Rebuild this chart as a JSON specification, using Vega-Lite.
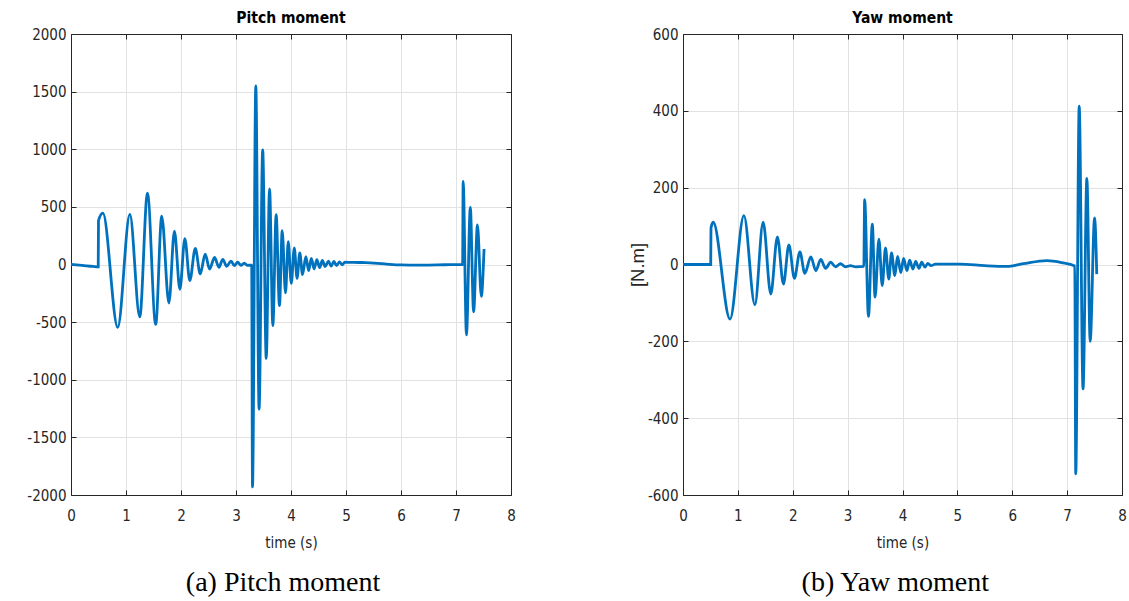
{
  "$schema": "https://vega.github.io/schema/vega-lite/v6.json",
  "background": "white",
  "padding": {"left": 26, "top": 10, "right": 4, "bottom": 5},
  "spacing": 112,
  "config": {
    "view": {"stroke": null},
    "axis": {
      "domainColor": "#262626",
      "tickColor": "#262626",
      "labelColor": "#262626",
      "titleColor": "#262626",
      "gridColor": "#e2e2e2",
      "labelFont": "DejaVu Sans Condensed, Liberation Sans",
      "labelFontSize": 15,
      "titleFont": "DejaVu Sans Condensed, Liberation Sans",
      "titleFontSize": 15,
      "titleFontWeight": "normal",
      "tickSize": -5,
      "domainWidth": 1,
      "tickWidth": 1,
      "labelExpr": "'' + datum.value"
    },
    "title": {
      "font": "DejaVu Sans Condensed, Liberation Sans",
      "fontSize": 15.5,
      "fontWeight": "bold",
      "color": "#000000"
    }
  },
  "datasets": {
    "pitch": [
      {"t": 0, "v": 0}, {"t": 0.2, "v": -8}, {"t": 0.4, "v": -17}, {"t": 0.495, "v": -20},
      {"t": 0.5, "v": 380}, {"t": 0.58, "v": 445}, {"t": 0.85, "v": -545}, {"t": 1.07, "v": 435},
      {"t": 1.25, "v": -455}, {"t": 1.39, "v": 620}, {"t": 1.54, "v": -520}, {"t": 1.65, "v": 420},
      {"t": 1.78, "v": -335}, {"t": 1.88, "v": 290}, {"t": 1.98, "v": -215}, {"t": 2.07, "v": 225},
      {"t": 2.16, "v": -140}, {"t": 2.26, "v": 140}, {"t": 2.35, "v": -82}, {"t": 2.44, "v": 90},
      {"t": 2.52, "v": -40}, {"t": 2.61, "v": 62}, {"t": 2.69, "v": -24}, {"t": 2.76, "v": 45},
      {"t": 2.83, "v": -16}, {"t": 2.91, "v": 30}, {"t": 2.97, "v": -10}, {"t": 3.03, "v": 20},
      {"t": 3.09, "v": -8}, {"t": 3.15, "v": 12}, {"t": 3.21, "v": -8}, {"t": 3.285, "v": -5},
      {"t": 3.3, "v": -1930}, {"t": 3.36, "v": 1550}, {"t": 3.42, "v": -1255}, {"t": 3.485, "v": 995},
      {"t": 3.55, "v": -815}, {"t": 3.61, "v": 655}, {"t": 3.67, "v": -530}, {"t": 3.73, "v": 432},
      {"t": 3.79, "v": -357}, {"t": 3.84, "v": 293}, {"t": 3.9, "v": -247}, {"t": 3.95, "v": 198},
      {"t": 4.005, "v": -163}, {"t": 4.06, "v": 143}, {"t": 4.11, "v": -120}, {"t": 4.16, "v": 100},
      {"t": 4.21, "v": -88}, {"t": 4.27, "v": 68}, {"t": 4.32, "v": -53}, {"t": 4.37, "v": 54},
      {"t": 4.42, "v": -39}, {"t": 4.47, "v": 42}, {"t": 4.52, "v": -27}, {"t": 4.57, "v": 35},
      {"t": 4.62, "v": -18}, {"t": 4.68, "v": 29}, {"t": 4.73, "v": -14}, {"t": 4.78, "v": 26},
      {"t": 4.83, "v": -10}, {"t": 4.88, "v": 23}, {"t": 4.93, "v": -2}, {"t": 4.98, "v": 20},
      {"t": 5.1, "v": 18}, {"t": 5.35, "v": 17}, {"t": 5.7, "v": 5}, {"t": 6.0, "v": -4},
      {"t": 6.4, "v": -5}, {"t": 6.8, "v": -2}, {"t": 7.1, "v": 0}, {"t": 7.12, "v": 0},
      {"t": 7.13, "v": 720}, {"t": 7.19, "v": -610}, {"t": 7.26, "v": 495}, {"t": 7.32, "v": -410},
      {"t": 7.39, "v": 343}, {"t": 7.46, "v": -277}, {"t": 7.51, "v": 134}
    ],
    "yaw": [
      {"t": 0, "v": 0}, {"t": 0.505, "v": 0}, {"t": 0.51, "v": 95}, {"t": 0.55, "v": 110},
      {"t": 0.857, "v": -142}, {"t": 1.11, "v": 127}, {"t": 1.31, "v": -105}, {"t": 1.46, "v": 110},
      {"t": 1.6, "v": -77}, {"t": 1.72, "v": 72}, {"t": 1.83, "v": -51}, {"t": 1.93, "v": 51},
      {"t": 2.03, "v": -36}, {"t": 2.13, "v": 33}, {"t": 2.22, "v": -23}, {"t": 2.33, "v": 20},
      {"t": 2.42, "v": -16}, {"t": 2.51, "v": 13}, {"t": 2.6, "v": -10}, {"t": 2.69, "v": 6},
      {"t": 2.78, "v": -6}, {"t": 2.87, "v": 2}, {"t": 2.96, "v": -6}, {"t": 3.05, "v": -3},
      {"t": 3.15, "v": -6}, {"t": 3.295, "v": -5}, {"t": 3.31, "v": 169}, {"t": 3.38, "v": -135},
      {"t": 3.45, "v": 105}, {"t": 3.5, "v": -85}, {"t": 3.57, "v": 66}, {"t": 3.63, "v": -55},
      {"t": 3.69, "v": 43}, {"t": 3.75, "v": -38}, {"t": 3.8, "v": 30}, {"t": 3.86, "v": -29},
      {"t": 3.91, "v": 21}, {"t": 3.97, "v": -21}, {"t": 4.02, "v": 16}, {"t": 4.08, "v": -16},
      {"t": 4.13, "v": 11}, {"t": 4.19, "v": -12}, {"t": 4.24, "v": 8}, {"t": 4.3, "v": -10},
      {"t": 4.35, "v": 6}, {"t": 4.41, "v": -7}, {"t": 4.46, "v": 3}, {"t": 4.52, "v": -3},
      {"t": 4.6, "v": 1}, {"t": 5.05, "v": 1}, {"t": 5.5, "v": -3}, {"t": 5.9, "v": -5},
      {"t": 6.2, "v": 2}, {"t": 6.63, "v": 10}, {"t": 6.9, "v": 5}, {"t": 7.14, "v": -4},
      {"t": 7.157, "v": -545}, {"t": 7.22, "v": 412}, {"t": 7.29, "v": -324}, {"t": 7.36, "v": 224},
      {"t": 7.42, "v": -200}, {"t": 7.5, "v": 121}, {"t": 7.54, "v": -25}
    ]
  },
  "hconcat": [
    {
      "title": {"text": "(a) Pitch moment", "orient": "bottom", "anchor": "middle", "dx": 12, "font": "Liberation Serif", "fontSize": 28, "fontWeight": "normal", "offset": 19},
      "vconcat": [
        {
          "title": {"text": "Pitch moment", "offset": 1},
          "width": 440,
          "height": 461,
          "data": {"name": "pitch"},
          "resolve": {"axis": {"x": "independent", "y": "independent"}},
          "layer": [
            {
              "mark": {"type": "line", "color": "#0072BD", "strokeWidth": 2.8, "interpolate": "monotone"},
              "encoding": {
                "x": {"field": "t", "type": "quantitative", "scale": {"domain": [0, 8], "nice": false},
                      "axis": {"orient": "bottom", "title": "time (s)", "values": [0,1,2,3,4,5,6,7,8], "labelPadding": 18.5, "titlePadding": 11.5, "grid": true, "labelFlush": false}},
                "y": {"field": "v", "type": "quantitative", "scale": {"domain": [-2000, 2000], "nice": false},
                      "axis": {"orient": "left", "title": null, "values": [-2000,-1500,-1000,-500,0,500,1000,1500,2000], "labelPadding": 10, "grid": true, "labelFlush": false}}
              }
            },
            {
              "mark": {"type": "line", "strokeOpacity": 0},
              "encoding": {
                "x": {"field": "t", "type": "quantitative", "scale": {"domain": [0, 8], "nice": false},
                      "axis": {"orient": "top", "title": null, "labels": false, "values": [0,1,2,3,4,5,6,7,8], "grid": false}},
                "y": {"field": "v", "type": "quantitative", "scale": {"domain": [-2000, 2000], "nice": false},
                      "axis": {"orient": "right", "title": null, "labels": false, "values": [-2000,-1500,-1000,-500,0,500,1000,1500,2000], "grid": false}}
              }
            }
          ]
        }
      ]
    },
    {
      "title": {"text": "(b) Yaw moment", "orient": "bottom", "anchor": "middle", "dx": 18, "font": "Liberation Serif", "fontSize": 28, "fontWeight": "normal", "offset": 19},
      "vconcat": [
        {
          "title": {"text": "Yaw moment", "offset": 1},
          "width": 439,
          "height": 461,
          "data": {"name": "yaw"},
          "resolve": {"axis": {"x": "independent", "y": "independent"}},
          "layer": [
            {
              "mark": {"type": "line", "color": "#0072BD", "strokeWidth": 2.8, "interpolate": "monotone"},
              "encoding": {
                "x": {"field": "t", "type": "quantitative", "scale": {"domain": [0, 8], "nice": false},
                      "axis": {"orient": "bottom", "title": "time (s)", "values": [0,1,2,3,4,5,6,7,8], "labelPadding": 18.5, "titlePadding": 11.5, "grid": true, "labelFlush": false}},
                "y": {"field": "v", "type": "quantitative", "scale": {"domain": [-600, 600], "nice": false},
                      "axis": {"orient": "left", "title": "[N.m]", "titleFont": "Liberation Sans", "titleFontSize": 18.5, "titlePadding": 0, "values": [-600,-400,-200,0,200,400,600], "labelPadding": 10, "grid": true, "labelFlush": false}}
              }
            },
            {
              "mark": {"type": "line", "strokeOpacity": 0},
              "encoding": {
                "x": {"field": "t", "type": "quantitative", "scale": {"domain": [0, 8], "nice": false},
                      "axis": {"orient": "top", "title": null, "labels": false, "values": [0,1,2,3,4,5,6,7,8], "grid": false}},
                "y": {"field": "v", "type": "quantitative", "scale": {"domain": [-600, 600], "nice": false},
                      "axis": {"orient": "right", "title": null, "labels": false, "values": [-600,-400,-200,0,200,400,600], "grid": false}}
              }
            }
          ]
        }
      ]
    }
  ]
}
